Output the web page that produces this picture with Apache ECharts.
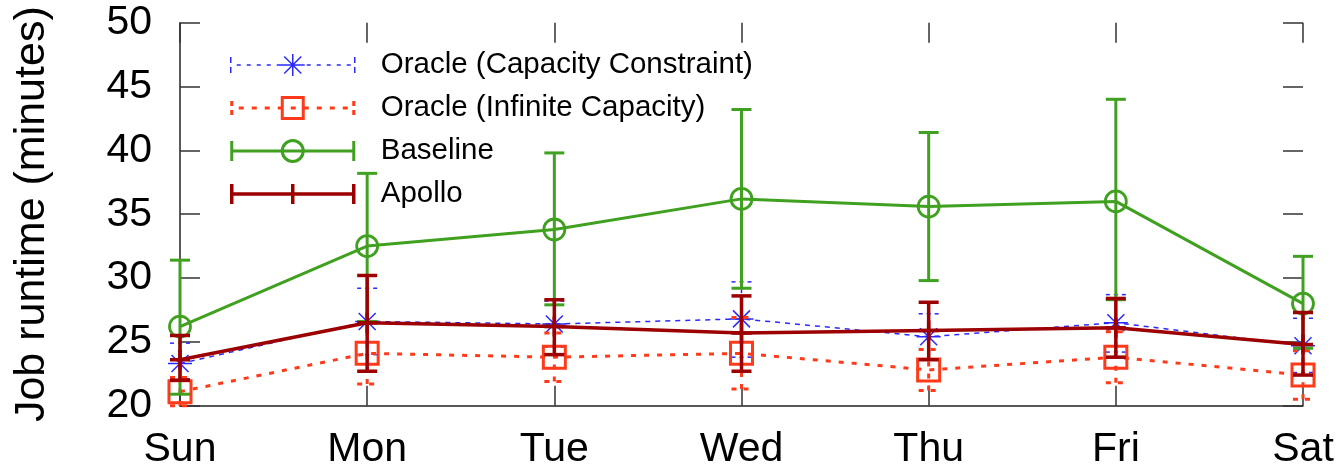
<!DOCTYPE html>
<html><head><meta charset="utf-8">
<script src="https://cdn.jsdelivr.net/npm/echarts@6/dist/echarts.min.js"></script>
<style>html,body{margin:0;padding:0;background:#fff}#c{width:1341px;height:466px}</style>
</head><body><div id="c"></div><script>
// ---- data ----
const days = ['Sun', 'Mon', 'Tue', 'Wed', 'Thu', 'Fri', 'Sat'];
const yTicks = [20, 25, 30, 35, 40, 45, 50];

const capName = 'Oracle (Capacity Constraint)';
const capMean = [23.3, 26.6, 26.4, 26.8, 25.4, 26.5, 24.7];
const capLow  = [22.1, 24.0, 24.6, 23.8, 23.6, 24.2, 22.6];
const capHigh = [24.9, 29.2, 28.2, 29.7, 27.2, 28.7, 26.85];

const infName = 'Oracle (Infinite Capacity)';
const infMean = [21.1, 24.1, 23.8, 24.1, 22.8, 23.8, 22.4];
const infLow  = [20.0, 21.7, 21.9, 21.3, 21.2, 21.8, 20.5];
const infHigh = [22.2, 26.5, 25.7, 26.9, 24.4, 25.8, 24.3];

const baseName = 'Baseline';
const baseMean = [26.2, 32.5, 33.8, 36.2, 35.6, 36.0, 28.0];
const baseLow  = [20.9, 26.6, 27.9, 29.2, 29.8, 28.3, 24.5];
const baseHigh = [31.4, 38.2, 39.8, 43.2, 41.4, 44.0, 31.7];

const apoName = 'Apollo';
const apoMean = [23.6, 26.5, 26.2, 25.7, 25.9, 26.1, 24.8];
const apoLow  = [22.0, 22.7, 24.0, 22.7, 23.6, 23.8, 22.4];
const apoHigh = [25.5, 30.2, 28.3, 28.6, 28.1, 28.4, 27.3];

// ---- styles ----
const BLUE = '#2a2aff', RED = '#ff3a1a', GREEN = '#40a020', DRED = '#9c0000';
const FONT = 'Liberation Sans, Arial, sans-serif';

function errorBars(name, low, high, color, width, dash, z) {
  return {
    name: name, type: 'custom', z: z, silent: true, animation: false,
    data: days.map((d, i) => [i, low[i], high[i]]),
    encode: { x: 0, y: [1, 2] },
    renderItem: function (params, api) {
      const x = api.value(0);
      const lo = api.coord([x, api.value(1)]);
      const hi = api.coord([x, api.value(2)]);
      const h = 10;
      const st = { stroke: color, lineWidth: width, lineDash: dash, fill: null };
      return { type: 'group', children: [
        { type: 'line', shape: { x1: lo[0], y1: lo[1], x2: hi[0], y2: hi[1] }, style: st },
        { type: 'line', shape: { x1: lo[0] - h, y1: lo[1], x2: lo[0] + h, y2: lo[1] }, style: st },
        { type: 'line', shape: { x1: hi[0] - h, y1: hi[1], x2: hi[0] + h, y2: hi[1] }, style: st }
      ]};
    }
  };
}

// legend sample icons (box 0..145 x 0..22, visible sample 0..124)
function dashH(x0, x1, y, d, g) {
  let s = '';
  for (let x = x0; x < x1; x += d + g) s += 'M' + x + ' ' + y + 'L' + Math.min(x + d, x1) + ' ' + y;
  return s;
}
const BOX = 'M0 0M145 22';
const iconCap = 'path://' + BOX + 'M0 3L0 9M0 13L0 19M124 3L124 9M124 13L124 19' + dashH(6, 120, 11, 4, 6)
  + 'M62 0L62 22M50 11L74 11M53.5 2.5L70.5 19.5M70.5 2.5L53.5 19.5';
const iconInf = 'path://' + BOX + 'M1 4L1 9M1 13L1 18M123 4L123 9M123 13L123 18' + dashH(8, 118, 11, 5, 8)
  + 'M51.5 0.5L72.5 0.5L72.5 21.5L51.5 21.5Z';
const iconBase = 'path://' + BOX + 'M1 1L1 21M123 1L123 21M1 11L123 11'
  + 'M72.5 11A10.5 10.5 0 1 1 51.5 11A10.5 10.5 0 1 1 72.5 11';
const iconApo = 'path://' + BOX + 'M1 1L1 21M123 1L123 21M1 11L123 11M62 1L62 21';

function lineSeries(name, data, color, width, dash, symbol, size, symW, z) {
  return {
    name: name, type: 'line', data: data, z: z, silent: true, animation: false,
    symbol: symbol, symbolSize: size, showSymbol: true, showAllSymbol: true,
    itemStyle: { color: 'rgba(0,0,0,0)', borderColor: color, borderWidth: symW },
    lineStyle: { color: color, width: width, type: dash },
    emphasis: { disabled: true }
  };
}

const tickStyle = { color: '#333', width: 1.5 };
const chart = echarts.init(document.getElementById('c'));
chart.setOption({
  animation: false,
  backgroundColor: '#fff',
  grid: { left: 180, right: 38, top: 22.7, bottom: 60.3, containLabel: false, outerBoundsMode: 'none' },
  legend: {
    orient: 'vertical', left: 229, top: 50, padding: 0,
    itemWidth: 145, itemHeight: 22, itemGap: 13,
    selectedMode: false,
    textStyle: { fontSize: 29.5, fontFamily: FONT, color: '#000', lineHeight: 22 },
    data: [
      { name: capName, icon: iconCap, itemStyle: { color: 'rgba(0,0,0,0)', borderColor: BLUE, borderWidth: 1.5 } },
      { name: infName, icon: iconInf, itemStyle: { color: 'rgba(0,0,0,0)', borderColor: RED, borderWidth: 3 } },
      { name: baseName, icon: iconBase, itemStyle: { color: 'rgba(0,0,0,0)', borderColor: GREEN, borderWidth: 3 } },
      { name: apoName, icon: iconApo, itemStyle: { color: 'rgba(0,0,0,0)', borderColor: DRED, borderWidth: 3.5 } }
    ]
  },
  xAxis: [
    { type: 'category', data: days, boundaryGap: false, position: 'bottom',
      axisLine: { show: true, lineStyle: { color: '#222', width: 1.5 } },
      axisTick: { show: true, inside: true, length: 20, lineStyle: tickStyle },
      axisLabel: { fontSize: 41, fontFamily: FONT, color: '#000', margin: 23, interval: 0 },
      splitLine: { show: false } },
    { type: 'category', data: days, boundaryGap: false, position: 'top',
      axisLine: { show: false },
      axisTick: { show: true, inside: true, length: 20, lineStyle: tickStyle },
      axisLabel: { show: false }, splitLine: { show: false } }
  ],
  yAxis: [
    { type: 'value', min: yTicks[0], max: yTicks[yTicks.length - 1], interval: yTicks[1] - yTicks[0],
      position: 'left',
      name: 'Job runtime (minutes)', nameLocation: 'middle', nameRotate: 90, nameGap: 126,
      nameTextStyle: { fontSize: 43, fontFamily: FONT, color: '#000' },
      axisLine: { show: true, lineStyle: { color: '#222', width: 1.5 } },
      axisTick: { show: true, inside: true, length: 20, lineStyle: tickStyle },
      axisLabel: { fontSize: 41, fontFamily: FONT, color: '#000', margin: 28 },
      splitLine: { show: false } },
    { type: 'value', min: yTicks[0], max: yTicks[yTicks.length - 1], interval: yTicks[1] - yTicks[0],
      position: 'right',
      axisLine: { show: false },
      axisTick: { show: true, inside: true, length: 20, lineStyle: tickStyle },
      axisLabel: { show: false }, splitLine: { show: false } }
  ],
  series: [
    errorBars('capErr', capLow, capHigh, BLUE, 1.5, [4, 4], 2),
    lineSeries(capName, capMean, BLUE, 1.5, [5, 5], 'path://M12 0L12 24M0 12L24 12M3.5 3.5L20.5 20.5M20.5 3.5L3.5 20.5', 24, 1.5, 3),
    errorBars('infErr', infLow, infHigh, RED, 3, [5, 7], 4),
    lineSeries(infName, infMean, RED, 3, [5, 8], 'path://M0 0L22 0L22 22L0 22Z', 22, 3, 5),
    errorBars('baseErr', baseLow, baseHigh, GREEN, 3, null, 6),
    lineSeries(baseName, baseMean, GREEN, 3, 'solid', 'circle', 21, 2.8, 7),
    errorBars('apoErr', apoLow, apoHigh, DRED, 3.5, null, 8),
    lineSeries(apoName, apoMean, DRED, 3.5, 'solid', 'path://M10 0L10 20M0 10L20 10', 20, 3.5, 9)
  ]
});
</script></body></html>
